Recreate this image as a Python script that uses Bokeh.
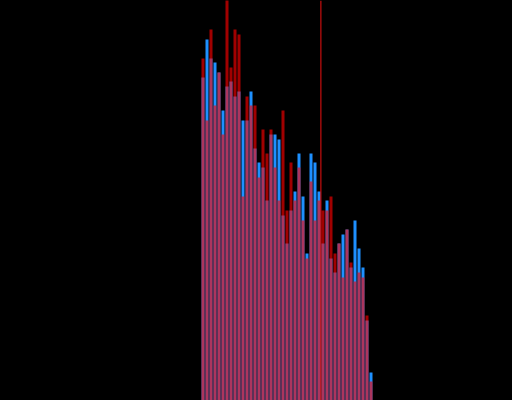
from bokeh.plotting import figure
from bokeh.models import Span, Range1d
from bokeh.embed import file_html
from bokeh.resources import INLINE

# histogram bins (index) and counts of the two series
bins = list(range(43))
blue_counts = [323, 361, 342, 338, 328, 290, 314, 319, 304, 309, 280, 280, 309, 252, 238,
               233, 200, 266, 266, 261, 185, 157, 190, 209, 247, 204, 147, 247, 238, 209,
               157, 200, 142, 128, 157, 166, 171, 133, 180, 152, 133, 80, 28]
red_counts = [342, 280, 371, 295, 328, 266, 410, 333, 371, 366, 204, 304, 295, 295, 223,
              271, 247, 271, 233, 200, 290, 190, 238, 200, 233, 180, 142, 219, 180, 200,
              190, 190, 204, 147, 157, 123, 171, 138, 119, 128, 123, 85, 19]
mean_value = 29.85

p = figure(width=512, height=400, output_backend="svg", toolbar_location=None,
           x_range=Range1d(-50.25, 77.75), y_range=Range1d(0, 400),
           min_border=0, min_border_left=0, min_border_right=0,
           min_border_top=0, min_border_bottom=0)
p.axis.visible = False
p.grid.visible = False
p.outline_line_color = None
p.background_fill_color = "black"
p.border_fill_color = "black"

left = [b for b in bins]
right = [b + 0.75 for b in bins]
p.quad(left=left, right=right, bottom=0, top=blue_counts,
       fill_color="#1e90ff", line_color=None, fill_alpha=1.0)
p.quad(left=left, right=right, bottom=0, top=red_counts,
       fill_color="#ff0000", line_color=None, fill_alpha=0.63)

p.add_layout(Span(location=mean_value, dimension="height",
                  line_color="#ee1111", line_width=1))

html = file_html(p, INLINE)
html = html.replace("</head>",
                    "<style>html,body{margin:0;padding:0;background:#000;overflow:hidden;}</style></head>", 1)
open("out.html", "w").write(html)
